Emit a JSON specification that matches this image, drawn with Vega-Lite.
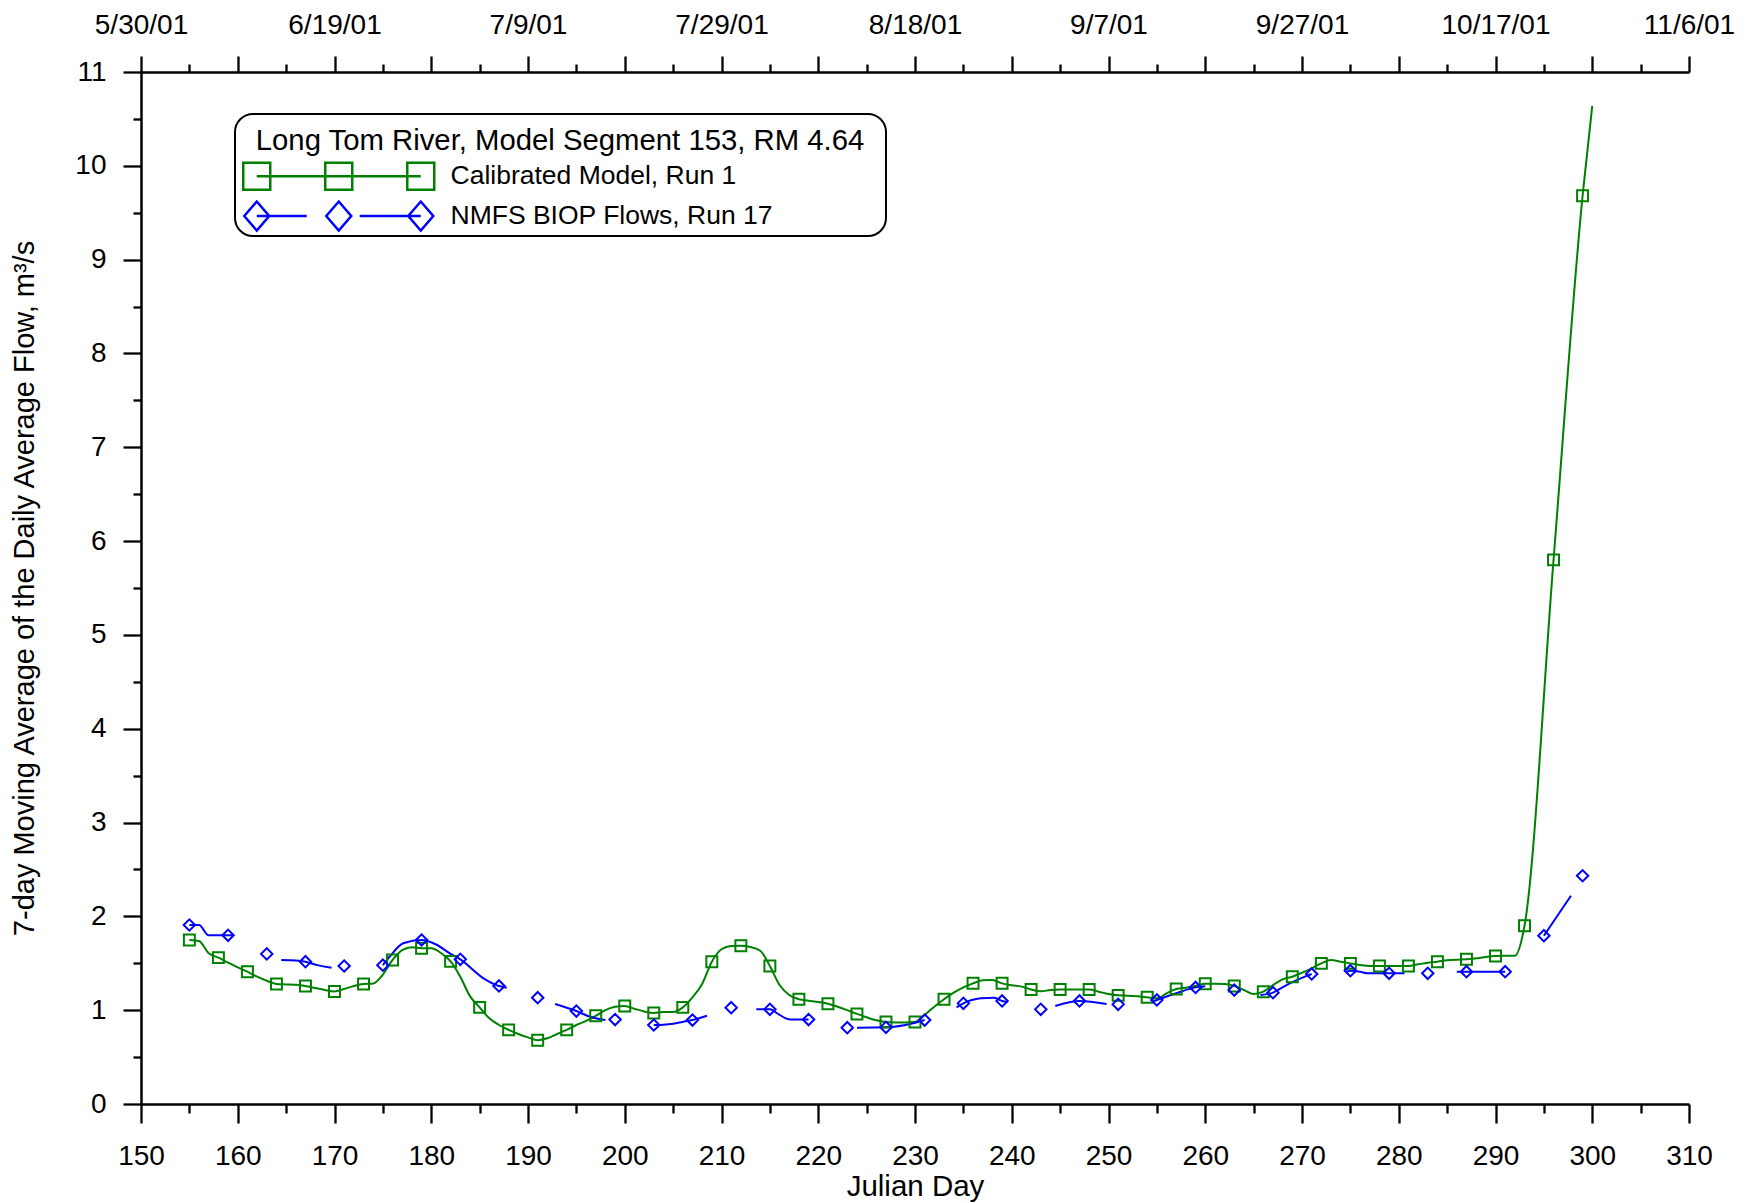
{
  "$schema": "https://vega.github.io/schema/vega-lite/v6.json",
  "width": 1548,
  "height": 1032,
  "autosize": "none",
  "padding": {"left": 141, "top": 72, "right": 65, "bottom": 99},
  "background": "white",
  "config": {
    "view": {"stroke": null},
    "font": "Liberation Sans",
    "axis": {
      "domainColor": "black", "domainWidth": 2.5, "tickColor": "black", "tickWidth": 2.3,
      "labelColor": "black", "labelFont": "Liberation Sans", "labelFontSize": 28,
      "titleFont": "Liberation Sans", "titleFontSize": 29, "titleFontWeight": "normal", "titleColor": "black",
      "grid": false, "labelOverlap": false, "labelBound": false, "labelFlush": false
    },
    "legend": {"strokeWidth": 2}
  },
  "data": {"values": [
    {"series": "Calibrated Model, Run 1", "segment": "C", "day": 155, "flow": 1.748, "marker": 1},
    {"series": "Calibrated Model, Run 1", "segment": "C", "day": 156, "flow": 1.737},
    {"series": "Calibrated Model, Run 1", "segment": "C", "day": 157, "flow": 1.606},
    {"series": "Calibrated Model, Run 1", "segment": "C", "day": 158, "flow": 1.56, "marker": 1},
    {"series": "Calibrated Model, Run 1", "segment": "C", "day": 159, "flow": 1.506},
    {"series": "Calibrated Model, Run 1", "segment": "C", "day": 160, "flow": 1.457},
    {"series": "Calibrated Model, Run 1", "segment": "C", "day": 161, "flow": 1.41, "marker": 1},
    {"series": "Calibrated Model, Run 1", "segment": "C", "day": 162, "flow": 1.357},
    {"series": "Calibrated Model, Run 1", "segment": "C", "day": 163, "flow": 1.314},
    {"series": "Calibrated Model, Run 1", "segment": "C", "day": 164, "flow": 1.28, "marker": 1},
    {"series": "Calibrated Model, Run 1", "segment": "C", "day": 165, "flow": 1.275},
    {"series": "Calibrated Model, Run 1", "segment": "C", "day": 166, "flow": 1.27},
    {"series": "Calibrated Model, Run 1", "segment": "C", "day": 167, "flow": 1.258, "marker": 1},
    {"series": "Calibrated Model, Run 1", "segment": "C", "day": 168, "flow": 1.236},
    {"series": "Calibrated Model, Run 1", "segment": "C", "day": 169, "flow": 1.215},
    {"series": "Calibrated Model, Run 1", "segment": "C", "day": 170, "flow": 1.2, "marker": 1},
    {"series": "Calibrated Model, Run 1", "segment": "C", "day": 171, "flow": 1.226},
    {"series": "Calibrated Model, Run 1", "segment": "C", "day": 172, "flow": 1.258},
    {"series": "Calibrated Model, Run 1", "segment": "C", "day": 173, "flow": 1.28, "marker": 1},
    {"series": "Calibrated Model, Run 1", "segment": "C", "day": 174, "flow": 1.285},
    {"series": "Calibrated Model, Run 1", "segment": "C", "day": 175, "flow": 1.38},
    {"series": "Calibrated Model, Run 1", "segment": "C", "day": 176, "flow": 1.535, "marker": 1},
    {"series": "Calibrated Model, Run 1", "segment": "C", "day": 177, "flow": 1.64},
    {"series": "Calibrated Model, Run 1", "segment": "C", "day": 178, "flow": 1.67},
    {"series": "Calibrated Model, Run 1", "segment": "C", "day": 179, "flow": 1.66, "marker": 1},
    {"series": "Calibrated Model, Run 1", "segment": "C", "day": 180, "flow": 1.66},
    {"series": "Calibrated Model, Run 1", "segment": "C", "day": 181, "flow": 1.61},
    {"series": "Calibrated Model, Run 1", "segment": "C", "day": 182, "flow": 1.52, "marker": 1},
    {"series": "Calibrated Model, Run 1", "segment": "C", "day": 183, "flow": 1.357},
    {"series": "Calibrated Model, Run 1", "segment": "C", "day": 184, "flow": 1.15},
    {"series": "Calibrated Model, Run 1", "segment": "C", "day": 185, "flow": 1.03, "marker": 1},
    {"series": "Calibrated Model, Run 1", "segment": "C", "day": 186, "flow": 0.913},
    {"series": "Calibrated Model, Run 1", "segment": "C", "day": 187, "flow": 0.842},
    {"series": "Calibrated Model, Run 1", "segment": "C", "day": 188, "flow": 0.79, "marker": 1},
    {"series": "Calibrated Model, Run 1", "segment": "C", "day": 189, "flow": 0.746},
    {"series": "Calibrated Model, Run 1", "segment": "C", "day": 190, "flow": 0.71},
    {"series": "Calibrated Model, Run 1", "segment": "C", "day": 191, "flow": 0.68, "marker": 1},
    {"series": "Calibrated Model, Run 1", "segment": "C", "day": 192, "flow": 0.7},
    {"series": "Calibrated Model, Run 1", "segment": "C", "day": 193, "flow": 0.746},
    {"series": "Calibrated Model, Run 1", "segment": "C", "day": 194, "flow": 0.79, "marker": 1},
    {"series": "Calibrated Model, Run 1", "segment": "C", "day": 195, "flow": 0.842},
    {"series": "Calibrated Model, Run 1", "segment": "C", "day": 196, "flow": 0.885},
    {"series": "Calibrated Model, Run 1", "segment": "C", "day": 197, "flow": 0.94, "marker": 1},
    {"series": "Calibrated Model, Run 1", "segment": "C", "day": 198, "flow": 1.0},
    {"series": "Calibrated Model, Run 1", "segment": "C", "day": 199, "flow": 1.037},
    {"series": "Calibrated Model, Run 1", "segment": "C", "day": 200, "flow": 1.045, "marker": 1},
    {"series": "Calibrated Model, Run 1", "segment": "C", "day": 201, "flow": 1.016},
    {"series": "Calibrated Model, Run 1", "segment": "C", "day": 202, "flow": 0.987},
    {"series": "Calibrated Model, Run 1", "segment": "C", "day": 203, "flow": 0.97, "marker": 1},
    {"series": "Calibrated Model, Run 1", "segment": "C", "day": 204, "flow": 0.98},
    {"series": "Calibrated Model, Run 1", "segment": "C", "day": 205, "flow": 0.98},
    {"series": "Calibrated Model, Run 1", "segment": "C", "day": 206, "flow": 1.03, "marker": 1},
    {"series": "Calibrated Model, Run 1", "segment": "C", "day": 207, "flow": 1.137},
    {"series": "Calibrated Model, Run 1", "segment": "C", "day": 208, "flow": 1.279},
    {"series": "Calibrated Model, Run 1", "segment": "C", "day": 209, "flow": 1.517, "marker": 1},
    {"series": "Calibrated Model, Run 1", "segment": "C", "day": 210, "flow": 1.649},
    {"series": "Calibrated Model, Run 1", "segment": "C", "day": 211, "flow": 1.684},
    {"series": "Calibrated Model, Run 1", "segment": "C", "day": 212, "flow": 1.687, "marker": 1},
    {"series": "Calibrated Model, Run 1", "segment": "C", "day": 213, "flow": 1.673},
    {"series": "Calibrated Model, Run 1", "segment": "C", "day": 214, "flow": 1.634},
    {"series": "Calibrated Model, Run 1", "segment": "C", "day": 215, "flow": 1.471, "marker": 1},
    {"series": "Calibrated Model, Run 1", "segment": "C", "day": 216, "flow": 1.268},
    {"series": "Calibrated Model, Run 1", "segment": "C", "day": 217, "flow": 1.162},
    {"series": "Calibrated Model, Run 1", "segment": "C", "day": 218, "flow": 1.116, "marker": 1},
    {"series": "Calibrated Model, Run 1", "segment": "C", "day": 219, "flow": 1.101},
    {"series": "Calibrated Model, Run 1", "segment": "C", "day": 220, "flow": 1.087},
    {"series": "Calibrated Model, Run 1", "segment": "C", "day": 221, "flow": 1.069, "marker": 1},
    {"series": "Calibrated Model, Run 1", "segment": "C", "day": 222, "flow": 1.037},
    {"series": "Calibrated Model, Run 1", "segment": "C", "day": 223, "flow": 1.0},
    {"series": "Calibrated Model, Run 1", "segment": "C", "day": 224, "flow": 0.96, "marker": 1},
    {"series": "Calibrated Model, Run 1", "segment": "C", "day": 225, "flow": 0.924},
    {"series": "Calibrated Model, Run 1", "segment": "C", "day": 226, "flow": 0.892},
    {"series": "Calibrated Model, Run 1", "segment": "C", "day": 227, "flow": 0.874, "marker": 1},
    {"series": "Calibrated Model, Run 1", "segment": "C", "day": 228, "flow": 0.87},
    {"series": "Calibrated Model, Run 1", "segment": "C", "day": 229, "flow": 0.87},
    {"series": "Calibrated Model, Run 1", "segment": "C", "day": 230, "flow": 0.874, "marker": 1},
    {"series": "Calibrated Model, Run 1", "segment": "C", "day": 231, "flow": 0.949},
    {"series": "Calibrated Model, Run 1", "segment": "C", "day": 232, "flow": 1.037},
    {"series": "Calibrated Model, Run 1", "segment": "C", "day": 233, "flow": 1.116, "marker": 1},
    {"series": "Calibrated Model, Run 1", "segment": "C", "day": 234, "flow": 1.187},
    {"series": "Calibrated Model, Run 1", "segment": "C", "day": 235, "flow": 1.243},
    {"series": "Calibrated Model, Run 1", "segment": "C", "day": 236, "flow": 1.286, "marker": 1},
    {"series": "Calibrated Model, Run 1", "segment": "C", "day": 237, "flow": 1.318},
    {"series": "Calibrated Model, Run 1", "segment": "C", "day": 238, "flow": 1.322},
    {"series": "Calibrated Model, Run 1", "segment": "C", "day": 239, "flow": 1.286, "marker": 1},
    {"series": "Calibrated Model, Run 1", "segment": "C", "day": 240, "flow": 1.265},
    {"series": "Calibrated Model, Run 1", "segment": "C", "day": 241, "flow": 1.251},
    {"series": "Calibrated Model, Run 1", "segment": "C", "day": 242, "flow": 1.22, "marker": 1},
    {"series": "Calibrated Model, Run 1", "segment": "C", "day": 243, "flow": 1.201},
    {"series": "Calibrated Model, Run 1", "segment": "C", "day": 244, "flow": 1.215},
    {"series": "Calibrated Model, Run 1", "segment": "C", "day": 245, "flow": 1.22, "marker": 1},
    {"series": "Calibrated Model, Run 1", "segment": "C", "day": 246, "flow": 1.22},
    {"series": "Calibrated Model, Run 1", "segment": "C", "day": 247, "flow": 1.22},
    {"series": "Calibrated Model, Run 1", "segment": "C", "day": 248, "flow": 1.22, "marker": 1},
    {"series": "Calibrated Model, Run 1", "segment": "C", "day": 249, "flow": 1.197},
    {"series": "Calibrated Model, Run 1", "segment": "C", "day": 250, "flow": 1.172},
    {"series": "Calibrated Model, Run 1", "segment": "C", "day": 251, "flow": 1.158, "marker": 1},
    {"series": "Calibrated Model, Run 1", "segment": "C", "day": 252, "flow": 1.155},
    {"series": "Calibrated Model, Run 1", "segment": "C", "day": 253, "flow": 1.148},
    {"series": "Calibrated Model, Run 1", "segment": "C", "day": 254, "flow": 1.137, "marker": 1},
    {"series": "Calibrated Model, Run 1", "segment": "C", "day": 255, "flow": 1.126},
    {"series": "Calibrated Model, Run 1", "segment": "C", "day": 256, "flow": 1.18},
    {"series": "Calibrated Model, Run 1", "segment": "C", "day": 257, "flow": 1.226, "marker": 1},
    {"series": "Calibrated Model, Run 1", "segment": "C", "day": 258, "flow": 1.24},
    {"series": "Calibrated Model, Run 1", "segment": "C", "day": 259, "flow": 1.258},
    {"series": "Calibrated Model, Run 1", "segment": "C", "day": 260, "flow": 1.282, "marker": 1},
    {"series": "Calibrated Model, Run 1", "segment": "C", "day": 261, "flow": 1.282},
    {"series": "Calibrated Model, Run 1", "segment": "C", "day": 262, "flow": 1.279},
    {"series": "Calibrated Model, Run 1", "segment": "C", "day": 263, "flow": 1.258, "marker": 1},
    {"series": "Calibrated Model, Run 1", "segment": "C", "day": 264, "flow": 1.215},
    {"series": "Calibrated Model, Run 1", "segment": "C", "day": 265, "flow": 1.172},
    {"series": "Calibrated Model, Run 1", "segment": "C", "day": 266, "flow": 1.197, "marker": 1},
    {"series": "Calibrated Model, Run 1", "segment": "C", "day": 267, "flow": 1.268},
    {"series": "Calibrated Model, Run 1", "segment": "C", "day": 268, "flow": 1.329},
    {"series": "Calibrated Model, Run 1", "segment": "C", "day": 269, "flow": 1.357, "marker": 1},
    {"series": "Calibrated Model, Run 1", "segment": "C", "day": 270, "flow": 1.4},
    {"series": "Calibrated Model, Run 1", "segment": "C", "day": 271, "flow": 1.446},
    {"series": "Calibrated Model, Run 1", "segment": "C", "day": 272, "flow": 1.499, "marker": 1},
    {"series": "Calibrated Model, Run 1", "segment": "C", "day": 273, "flow": 1.535},
    {"series": "Calibrated Model, Run 1", "segment": "C", "day": 274, "flow": 1.517},
    {"series": "Calibrated Model, Run 1", "segment": "C", "day": 275, "flow": 1.499, "marker": 1},
    {"series": "Calibrated Model, Run 1", "segment": "C", "day": 276, "flow": 1.482},
    {"series": "Calibrated Model, Run 1", "segment": "C", "day": 277, "flow": 1.471},
    {"series": "Calibrated Model, Run 1", "segment": "C", "day": 278, "flow": 1.471, "marker": 1},
    {"series": "Calibrated Model, Run 1", "segment": "C", "day": 279, "flow": 1.471},
    {"series": "Calibrated Model, Run 1", "segment": "C", "day": 280, "flow": 1.471},
    {"series": "Calibrated Model, Run 1", "segment": "C", "day": 281, "flow": 1.471, "marker": 1},
    {"series": "Calibrated Model, Run 1", "segment": "C", "day": 282, "flow": 1.489},
    {"series": "Calibrated Model, Run 1", "segment": "C", "day": 283, "flow": 1.506},
    {"series": "Calibrated Model, Run 1", "segment": "C", "day": 284, "flow": 1.517, "marker": 1},
    {"series": "Calibrated Model, Run 1", "segment": "C", "day": 285, "flow": 1.531},
    {"series": "Calibrated Model, Run 1", "segment": "C", "day": 286, "flow": 1.538},
    {"series": "Calibrated Model, Run 1", "segment": "C", "day": 287, "flow": 1.542, "marker": 1},
    {"series": "Calibrated Model, Run 1", "segment": "C", "day": 288, "flow": 1.553},
    {"series": "Calibrated Model, Run 1", "segment": "C", "day": 289, "flow": 1.567},
    {"series": "Calibrated Model, Run 1", "segment": "C", "day": 290, "flow": 1.577, "marker": 1},
    {"series": "Calibrated Model, Run 1", "segment": "C", "day": 291, "flow": 1.581},
    {"series": "Calibrated Model, Run 1", "segment": "C", "day": 292, "flow": 1.581},
    {"series": "Calibrated Model, Run 1", "segment": "C", "day": 293, "flow": 1.9, "marker": 1},
    {"series": "Calibrated Model, Run 1", "segment": "C", "day": 296, "flow": 5.8, "marker": 1},
    {"series": "Calibrated Model, Run 1", "segment": "C", "day": 299, "flow": 9.68, "marker": 1},
    {"series": "Calibrated Model, Run 1", "segment": "C", "day": 300, "flow": 10.64},

    {"series": "NMFS BIOP Flows, Run 17", "segment": "B1", "day": 155, "flow": 1.908, "marker": 1},
    {"series": "NMFS BIOP Flows, Run 17", "segment": "B1", "day": 156, "flow": 1.908},
    {"series": "NMFS BIOP Flows, Run 17", "segment": "B1", "day": 157, "flow": 1.798},
    {"series": "NMFS BIOP Flows, Run 17", "segment": "B1", "day": 158, "flow": 1.798},
    {"series": "NMFS BIOP Flows, Run 17", "segment": "B1", "day": 159, "flow": 1.798, "marker": 1},
    {"series": "NMFS BIOP Flows, Run 17", "segment": "B1", "day": 159.6, "flow": 1.798},
    {"series": "NMFS BIOP Flows, Run 17", "segment": "B2", "day": 163, "flow": 1.6, "marker": 1},
    {"series": "NMFS BIOP Flows, Run 17", "segment": "B3", "day": 164.5, "flow": 1.535},
    {"series": "NMFS BIOP Flows, Run 17", "segment": "B3", "day": 166, "flow": 1.53},
    {"series": "NMFS BIOP Flows, Run 17", "segment": "B3", "day": 167, "flow": 1.517, "marker": 1},
    {"series": "NMFS BIOP Flows, Run 17", "segment": "B3", "day": 168.2, "flow": 1.48},
    {"series": "NMFS BIOP Flows, Run 17", "segment": "B3", "day": 169.7, "flow": 1.453},
    {"series": "NMFS BIOP Flows, Run 17", "segment": "B4", "day": 171, "flow": 1.471, "marker": 1},
    {"series": "NMFS BIOP Flows, Run 17", "segment": "B5", "day": 175, "flow": 1.48, "marker": 1},
    {"series": "NMFS BIOP Flows, Run 17", "segment": "B5", "day": 175.7, "flow": 1.57},
    {"series": "NMFS BIOP Flows, Run 17", "segment": "B5", "day": 177.1, "flow": 1.713},
    {"series": "NMFS BIOP Flows, Run 17", "segment": "B5", "day": 179, "flow": 1.748, "marker": 1},
    {"series": "NMFS BIOP Flows, Run 17", "segment": "B5", "day": 180.5, "flow": 1.7},
    {"series": "NMFS BIOP Flows, Run 17", "segment": "B5", "day": 182, "flow": 1.6},
    {"series": "NMFS BIOP Flows, Run 17", "segment": "B5", "day": 183, "flow": 1.542, "marker": 1},
    {"series": "NMFS BIOP Flows, Run 17", "segment": "B5", "day": 185.4, "flow": 1.34},
    {"series": "NMFS BIOP Flows, Run 17", "segment": "B5", "day": 187, "flow": 1.258, "marker": 1},
    {"series": "NMFS BIOP Flows, Run 17", "segment": "B5", "day": 187.8, "flow": 1.24},
    {"series": "NMFS BIOP Flows, Run 17", "segment": "B6", "day": 191, "flow": 1.133, "marker": 1},
    {"series": "NMFS BIOP Flows, Run 17", "segment": "B7", "day": 192.8, "flow": 1.066},
    {"series": "NMFS BIOP Flows, Run 17", "segment": "B7", "day": 195, "flow": 0.991, "marker": 1},
    {"series": "NMFS BIOP Flows, Run 17", "segment": "B7", "day": 196.4, "flow": 0.93},
    {"series": "NMFS BIOP Flows, Run 17", "segment": "B7", "day": 198, "flow": 0.895},
    {"series": "NMFS BIOP Flows, Run 17", "segment": "B8", "day": 199, "flow": 0.9, "marker": 1},
    {"series": "NMFS BIOP Flows, Run 17", "segment": "B9", "day": 203, "flow": 0.842, "marker": 1},
    {"series": "NMFS BIOP Flows, Run 17", "segment": "B9", "day": 204, "flow": 0.845},
    {"series": "NMFS BIOP Flows, Run 17", "segment": "B9", "day": 205, "flow": 0.855},
    {"series": "NMFS BIOP Flows, Run 17", "segment": "B9", "day": 206, "flow": 0.875},
    {"series": "NMFS BIOP Flows, Run 17", "segment": "B9", "day": 207, "flow": 0.895, "marker": 1},
    {"series": "NMFS BIOP Flows, Run 17", "segment": "B9", "day": 208.5, "flow": 0.94},
    {"series": "NMFS BIOP Flows, Run 17", "segment": "B10", "day": 211, "flow": 1.027, "marker": 1},
    {"series": "NMFS BIOP Flows, Run 17", "segment": "B11", "day": 213.6, "flow": 1.009},
    {"series": "NMFS BIOP Flows, Run 17", "segment": "B11", "day": 215, "flow": 1.009, "marker": 1},
    {"series": "NMFS BIOP Flows, Run 17", "segment": "B11", "day": 216, "flow": 0.949},
    {"series": "NMFS BIOP Flows, Run 17", "segment": "B11", "day": 217.1, "flow": 0.9},
    {"series": "NMFS BIOP Flows, Run 17", "segment": "B11", "day": 219, "flow": 0.9, "marker": 1},
    {"series": "NMFS BIOP Flows, Run 17", "segment": "B12", "day": 223, "flow": 0.813, "marker": 1},
    {"series": "NMFS BIOP Flows, Run 17", "segment": "B13", "day": 224, "flow": 0.813},
    {"series": "NMFS BIOP Flows, Run 17", "segment": "B13", "day": 227, "flow": 0.817, "marker": 1},
    {"series": "NMFS BIOP Flows, Run 17", "segment": "B13", "day": 229.8, "flow": 0.86},
    {"series": "NMFS BIOP Flows, Run 17", "segment": "B13", "day": 231, "flow": 0.895, "marker": 1},
    {"series": "NMFS BIOP Flows, Run 17", "segment": "B14", "day": 234.3, "flow": 1.03},
    {"series": "NMFS BIOP Flows, Run 17", "segment": "B14", "day": 235, "flow": 1.073, "marker": 1},
    {"series": "NMFS BIOP Flows, Run 17", "segment": "B14", "day": 236.8, "flow": 1.126},
    {"series": "NMFS BIOP Flows, Run 17", "segment": "B14", "day": 238.2, "flow": 1.133},
    {"series": "NMFS BIOP Flows, Run 17", "segment": "B14", "day": 239, "flow": 1.098, "marker": 1},
    {"series": "NMFS BIOP Flows, Run 17", "segment": "B14", "day": 239.6, "flow": 1.09},
    {"series": "NMFS BIOP Flows, Run 17", "segment": "B15", "day": 243, "flow": 1.009, "marker": 1},
    {"series": "NMFS BIOP Flows, Run 17", "segment": "B16", "day": 244.5, "flow": 1.045},
    {"series": "NMFS BIOP Flows, Run 17", "segment": "B16", "day": 247, "flow": 1.098, "marker": 1},
    {"series": "NMFS BIOP Flows, Run 17", "segment": "B16", "day": 249.8, "flow": 1.066},
    {"series": "NMFS BIOP Flows, Run 17", "segment": "B17", "day": 251, "flow": 1.062, "marker": 1},
    {"series": "NMFS BIOP Flows, Run 17", "segment": "B18", "day": 254.5, "flow": 1.09},
    {"series": "NMFS BIOP Flows, Run 17", "segment": "B18", "day": 255, "flow": 1.109, "marker": 1},
    {"series": "NMFS BIOP Flows, Run 17", "segment": "B18", "day": 257, "flow": 1.18},
    {"series": "NMFS BIOP Flows, Run 17", "segment": "B18", "day": 259, "flow": 1.243, "marker": 1},
    {"series": "NMFS BIOP Flows, Run 17", "segment": "B18", "day": 260, "flow": 1.255},
    {"series": "NMFS BIOP Flows, Run 17", "segment": "B19", "day": 263, "flow": 1.215, "marker": 1},
    {"series": "NMFS BIOP Flows, Run 17", "segment": "B20", "day": 265.7, "flow": 1.162},
    {"series": "NMFS BIOP Flows, Run 17", "segment": "B20", "day": 267, "flow": 1.187, "marker": 1},
    {"series": "NMFS BIOP Flows, Run 17", "segment": "B20", "day": 268.4, "flow": 1.268},
    {"series": "NMFS BIOP Flows, Run 17", "segment": "B20", "day": 270.3, "flow": 1.357},
    {"series": "NMFS BIOP Flows, Run 17", "segment": "B20", "day": 271, "flow": 1.386, "marker": 1},
    {"series": "NMFS BIOP Flows, Run 17", "segment": "B21", "day": 274.6, "flow": 1.41},
    {"series": "NMFS BIOP Flows, Run 17", "segment": "B21", "day": 275, "flow": 1.421, "marker": 1},
    {"series": "NMFS BIOP Flows, Run 17", "segment": "B21", "day": 276, "flow": 1.41},
    {"series": "NMFS BIOP Flows, Run 17", "segment": "B21", "day": 276.8, "flow": 1.393},
    {"series": "NMFS BIOP Flows, Run 17", "segment": "B21", "day": 279, "flow": 1.393, "marker": 1},
    {"series": "NMFS BIOP Flows, Run 17", "segment": "B21", "day": 280.6, "flow": 1.393},
    {"series": "NMFS BIOP Flows, Run 17", "segment": "B22", "day": 283, "flow": 1.393, "marker": 1},
    {"series": "NMFS BIOP Flows, Run 17", "segment": "B23", "day": 286, "flow": 1.41},
    {"series": "NMFS BIOP Flows, Run 17", "segment": "B23", "day": 287, "flow": 1.41, "marker": 1},
    {"series": "NMFS BIOP Flows, Run 17", "segment": "B23", "day": 291, "flow": 1.41, "marker": 1},
    {"series": "NMFS BIOP Flows, Run 17", "segment": "B24", "day": 295, "flow": 1.794, "marker": 1},
    {"series": "NMFS BIOP Flows, Run 17", "segment": "B24", "day": 297.8, "flow": 2.22},
    {"series": "NMFS BIOP Flows, Run 17", "segment": "B25", "day": 299, "flow": 2.433, "marker": 1}
  ]},
  "encoding": {
    "y": {
      "field": "flow", "type": "quantitative",
      "scale": {"domain": [0, 11], "nice": false, "zero": false},
      "axis": {
        "orient": "left",
        "values": [0, 0.5, 1, 1.5, 2, 2.5, 3, 3.5, 4, 4.5, 5, 5.5, 6, 6.5, 7, 7.5, 8, 8.5, 9, 9.5, 10, 10.5, 11],
        "labelExpr": "datum.value % 1 === 0 ? '' + datum.value : ''",
        "tickSize": {"condition": {"test": "datum.value % 1 === 0", "value": 18}, "value": 8},
        "labelPadding": 17,
        "title": "7-day Moving Average of the Daily Average Flow, m³/s",
        "titleFontSize": 29,
        "titlePadding": 35
      }
    }
  },
  "layer": [
    {
      "mark": {"type": "line", "strokeWidth": 2, "interpolate": "monotone"},
      "encoding": {
        "x": {
          "field": "day", "type": "quantitative",
          "scale": {"domain": [150, 310], "nice": false, "zero": false},
          "axis": {
            "orient": "bottom",
            "values": [150, 155, 160, 165, 170, 175, 180, 185, 190, 195, 200, 205, 210, 215, 220, 225, 230, 235, 240, 245, 250, 255, 260, 265, 270, 275, 280, 285, 290, 295, 300, 305, 310],
            "labelExpr": "datum.value % 10 === 0 ? datum.label : ''",
            "tickSize": {"condition": {"test": "datum.value % 10 === 0", "value": 19}, "value": 9},
            "labelPadding": 19,
            "title": "Julian Day",
            "titleFontSize": 29.5,
            "titlePadding": 2
          }
        },
        "detail": {"field": "segment"},
        "color": {
          "field": "series", "type": "nominal",
          "scale": {"domain": ["Calibrated Model, Run 1", "NMFS BIOP Flows, Run 17"], "range": ["#008000", "#0000ff"]},
          "legend": {
            "orient": "none", "legendX": 94, "legendY": 42,
            "title": ["", "Long Tom River, Model Segment 153, RM 4.64"],
            "titleLineHeight": 12.5,
            "titleFontSize": 29.3, "titleFont": "Liberation Sans", "titleFontWeight": "normal", "titleColor": "black",
            "titleAnchor": "middle", "titleLimit": 0, "titlePadding": 7.2,
            "labelFontSize": 26.5, "labelFont": "Liberation Sans", "labelColor": "black", "labelLimit": 0, "labelOffset": 189,
            "symbolSize": 400, "symbolStrokeWidth": 2.5,
            "padding": 0, "rowPadding": 0.8,
            "strokeColor": "black", "fillColor": "white", "cornerRadius": 18,
            "encode": {
              "symbols": {
                "update": {
                  "shape": {"signal": "datum.value === 'Calibrated Model, Run 1' ? 'M-0.5,-1.35H2.2V1.35H-0.5Z M7.7,-1.35H10.4V1.35H7.7Z M15.9,-1.35H18.6V1.35H15.9Z M0.85,0H17.25 M63.2,0' : 'M0.85,-1.45L2.1,0L0.85,1.45L-0.4,0Z M9.05,-1.45L10.3,0L9.05,1.45L7.8,0Z M17.25,-1.45L18.5,0L17.25,1.45L16,0Z M0.85,0H5.85 M11.15,0H17.25 M63.2,0'"},
                  "fill": {"value": "transparent"},
                  "strokeWidth": {"value": 2.5}
                }
              }
            }
          }
        }
      }
    },
    {
      "transform": [{"filter": "datum.marker === 1 && datum.series === 'Calibrated Model, Run 1'"}],
      "mark": {"type": "point", "shape": "square", "filled": false, "color": "#008000", "size": 120, "strokeWidth": 2, "opacity": 1},
      "encoding": {
        "x": {
          "field": "day", "type": "quantitative",
          "scale": {"domain": [150, 310], "nice": false, "zero": false},
          "axis": {
            "orient": "top",
            "values": [150, 155, 160, 165, 170, 175, 180, 185, 190, 195, 200, 205, 210, 215, 220, 225, 230, 235, 240, 245, 250, 255, 260, 265, 270, 275, 280, 285, 290, 295, 300, 305, 310],
            "labelExpr": "(datum.value - 150) % 20 === 0 ? timeFormat(datetime(2001, 0, datum.value), '%-m/%-d/%y') : ''",
            "tickSize": {"condition": {"test": "datum.value % 10 === 0", "value": 16}, "value": 8},
            "labelPadding": 17,
            "title": null
          }
        }
      }
    },
    {
      "transform": [{"filter": "datum.marker === 1 && datum.series === 'NMFS BIOP Flows, Run 17'"}],
      "mark": {"type": "point", "shape": "diamond", "filled": false, "color": "#0000ff", "size": 130, "strokeWidth": 2, "opacity": 1},
      "encoding": {
        "x": {"field": "day", "type": "quantitative", "scale": {"domain": [150, 310], "nice": false, "zero": false}, "axis": null}
      }
    }
  ],
  "resolve": {"axis": {"x": "independent"}}
}
